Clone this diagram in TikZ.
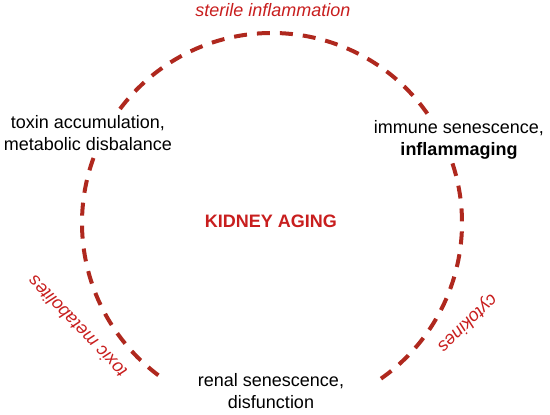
\documentclass[tikz,border=0pt]{standalone}
\usepackage{fontspec}
\setmainfont{Liberation Sans}
\usetikzlibrary{calc}
\definecolor{agingRed}{RGB}{200,30,30}
\definecolor{cycleRed}{RGB}{175,40,30}

\begin{document}
\begin{tikzpicture}[x=1pt, y=1pt,
    stagelbl/.style={font=\fontsize{18}{21.5}\selectfont, align=center, fill=white, inner sep=2pt},
    arclbl/.style={font=\fontsize{18}{21.5}\selectfont\itshape, text=agingRed}]
  \useasboundingbox (0,0) rectangle (550,415);
  % dashed cycle around the centre
  \coordinate (ctr) at (272,192);
  \draw[cycleRed, line width=4pt, dash pattern=on 13pt off 10pt]
    ($(ctr)+(-55:190)$) arc[start angle=-55, end angle=236, radius=190];
  % centre title
  \node[font=\fontsize{18}{21.5}\selectfont\bfseries, text=agingRed] (aging) at (271,194) {KIDNEY AGING};
  % stages on the cycle
  \node[stagelbl] (toxin) at (88,282) {toxin accumulation,\\metabolic disbalance};
  \node[stagelbl] (immune) at (459,275) {immune senescence,\\\textbf{inflammaging}};
  \node[stagelbl] (renal) at (271,24) {renal senescence,\\disfunction};
  % labels along the cycle
  \node[arclbl] (sterile) at (273,405) {sterile inflammation};
  \node[arclbl, rotate=134] (toxic) at (77,88) {toxic metabolites};
  \node[arclbl, rotate=-136] (cyto) at (467,92) {cytokines};
\end{tikzpicture}
\end{document}
